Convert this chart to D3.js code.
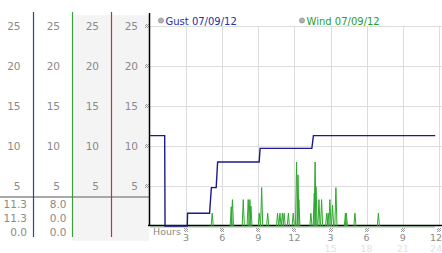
<!DOCTYPE html>
<html>

<head>
    <title>Gust / Wind 07/09/12</title>
    <script src="https://d3js.org/d3.v7.min.js"></script>
</head>

<body style="margin: 0; padding: 0; background: #fff;">
    <div id="container" style="width: 442px; height: 253px;"></div>

    <script>
        // chart values
        var yTicks = [25, 20, 15, 10, 5];
        var hourTicks = [3, 6, 9, 12, 15, 18, 21, 24];
        var hourLabels = ["3", "6", "9", "12", "3", "6", "9", "12"];
        var hourLabels24 = ["", "", "", "", "15", "18", "21", "24"];
        var seriesNames = ["Gust 07/09/12", "Wind 07/09/12"];
        var gustStats = ["11.3", "11.3", "0.0"];
        var windStats = ["8.0", "0.0", "0.0"];

        // gust readings (hours, mph)
        var gustHours = [0, 1.22, 1.25, 3.1, 3.12, 4.95, 5.1, 5.5, 5.62, 9.07, 9.15, 13.45, 13.58, 23.7];
        var gustValues = [11.3, 11.3, 0, 0, 1.6, 1.6, 4.8, 4.8, 8.0, 8.0, 9.7, 9.7, 11.3, 11.3];

        // wind readings that are not zero (hours, mph)
        var windHours = [5.17, 6.75, 6.85, 7.75, 8.16, 8.3, 8.39, 9.08, 9.28, 9.78, 10.6, 10.8, 11.0, 11.15,
            11.5, 11.9, 12.18, 12.3, 12.37, 13.37, 13.65, 13.72, 13.8, 14.04, 14.26, 14.68, 14.81, 14.95,
            15.17, 15.45, 16.24, 16.32, 17.03, 18.98];
        var windValues = [1.6, 2.4, 3.3, 3.3, 3.3, 3.3, 2.5, 1.6, 4.8, 1.6, 1.6, 1.6, 1.6, 1.6,
            1.6, 1.6, 8.0, 6.4, 3.3, 1.6, 4.1, 8.0, 4.9, 3.3, 3.3, 1.6, 1.6, 3.3,
            2.6, 4.8, 1.6, 1.6, 1.6, 1.6];

        var font = "'DejaVu Sans', Verdana, sans-serif";
        var grey = "#8a8a8a";

        var svg = d3.select("#container").append("svg")
            .attr("width", 442)
            .attr("height", 253)
            .style("font-family", font);

        // checker pattern for the little tick marks
        var pat = svg.append("defs").append("pattern")
            .attr("id", "hatch")
            .attr("width", 2).attr("height", 2)
            .attr("patternUnits", "userSpaceOnUse");
        pat.append("rect").attr("width", 1).attr("height", 1).attr("fill", "#9a9a9a");
        pat.append("rect").attr("x", 1).attr("y", 1).attr("width", 1).attr("height", 1).attr("fill", "#9a9a9a");

        var x = d3.scaleLinear().domain([0, 24]).range([150, 438.8]);
        var y = d3.scaleLinear().domain([0, 25]).range([226, 26]);

        // ---- left panel ----
        svg.append("rect")
            .attr("x", 73).attr("y", 15)
            .attr("width", 76).attr("height", 226)
            .attr("fill", "#f4f4f4");

        var colRight = [20.5, 60, 99, 138];
        colRight.forEach(function (cx) {
            svg.selectAll(null)
                .data(yTicks)
                .enter().append("text")
                .attr("x", cx)
                .attr("y", d => y(d) + 4)
                .attr("text-anchor", "end")
                .style("font-size", "10.5px")
                .style("fill", grey)
                .text(d => d);
        });

        // separator between axis labels and the stats rows
        svg.append("rect")
            .attr("x", 0).attr("y", 196)
            .attr("width", 149).attr("height", 2)
            .attr("fill", "#a8a8a8");

        var statY = [204.5, 218.5, 232];
        svg.selectAll(null)
            .data(gustStats)
            .enter().append("text")
            .attr("x", 27)
            .attr("y", (d, i) => statY[i] + 3.5)
            .attr("text-anchor", "end")
            .style("font-size", "10.5px")
            .style("fill", grey)
            .text(d => d);
        svg.selectAll(null)
            .data(windStats)
            .enter().append("text")
            .attr("x", 66.5)
            .attr("y", (d, i) => statY[i] + 3.5)
            .attr("text-anchor", "end")
            .style("font-size", "10.5px")
            .style("fill", grey)
            .text(d => d);

        // coloured column separators
        [[33.5, "#2846a0"], [72.5, "#3a9e3a"], [111.5, "#b03a3a"]].forEach(function (c) {
            svg.append("line")
                .attr("x1", c[0]).attr("x2", c[0])
                .attr("y1", 12).attr("y2", 237)
                .attr("stroke", c[1])
                .attr("stroke-width", 1.2);
        });

        // ---- main chart grid ----
        svg.selectAll(null)
            .data(yTicks)
            .enter().append("line")
            .attr("x1", 150).attr("x2", 442)
            .attr("y1", d => y(d) + 0.5).attr("y2", d => y(d) + 0.5)
            .attr("stroke", "#dcdcdc");

        svg.selectAll(null)
            .data(hourTicks)
            .enter().append("line")
            .attr("x1", d => Math.round(x(d)) + 0.5).attr("x2", d => Math.round(x(d)) + 0.5)
            .attr("y1", y(25)).attr("y2", y(0))
            .attr("stroke", "#dcdcdc");

        // y tick marks
        svg.selectAll(null)
            .data(yTicks)
            .enter().append("rect")
            .attr("x", 145).attr("y", d => Math.round(y(d)) - 2)
            .attr("width", 4).attr("height", 4)
            .attr("fill", "url(#hatch)");

        // x tick marks and labels
        svg.selectAll(null)
            .data(hourTicks)
            .enter().append("rect")
            .attr("x", d => Math.round(x(d)) - 2).attr("y", 228)
            .attr("width", 4).attr("height", 4)
            .attr("fill", "url(#hatch)");

        // last label sits against the right edge
        var lastTick = hourTicks[hourTicks.length - 1];
        svg.selectAll(null)
            .data(hourTicks)
            .enter().append("text")
            .attr("x", d => d === lastTick ? 442 : x(d))
            .attr("y", 240.5)
            .attr("text-anchor", d => d === lastTick ? "end" : "middle")
            .style("font-size", "9.5px")
            .style("fill", grey)
            .text((d, i) => hourLabels[i]);

        svg.selectAll(null)
            .data(hourTicks)
            .enter().append("text")
            .attr("x", d => d === lastTick ? 442 : x(d))
            .attr("y", 251.5)
            .attr("text-anchor", d => d === lastTick ? "end" : "middle")
            .style("font-size", "9.5px")
            .style("fill", "#e2e2e2")
            .text((d, i) => hourLabels24[i]);

        svg.append("text")
            .attr("x", 153)
            .attr("y", 235)
            .style("font-size", "9.5px")
            .style("fill", grey)
            .text("Hours");

        // ---- series ----
        // wind baseline at zero
        svg.append("line")
            .attr("x1", x(0)).attr("x2", x(23.7))
            .attr("y1", y(0) + 1).attr("y2", y(0) + 1)
            .attr("stroke", "#7ed07e")
            .attr("stroke-width", 1.2);

        // axis lines
        svg.append("line")
            .attr("x1", 149.5).attr("x2", 149.5)
            .attr("y1", 13).attr("y2", 226)
            .attr("stroke", "#000")
            .attr("stroke-width", 1.5);
        svg.append("line")
            .attr("x1", 148).attr("x2", 442)
            .attr("y1", 225.5).attr("y2", 225.5)
            .attr("stroke", "#000")
            .attr("stroke-width", 1.3);

        // wind spikes
        var half = 0.09;
        svg.selectAll(null)
            .data(windHours)
            .enter().append("path")
            .attr("d", (d, i) => d3.line()([[x(d - half), y(0)], [x(d), y(windValues[i])], [x(d + half), y(0)]]))
            .attr("fill", "none")
            .attr("stroke", "#2ea82e")
            .attr("stroke-width", 1);

        // gust line
        var gustLine = d3.line()
            .x(d => x(d))
            .y((d, i) => y(gustValues[i]));
        svg.append("path")
            .attr("d", gustLine(gustHours))
            .attr("fill", "none")
            .attr("stroke", "#1a1a8c")
            .attr("stroke-width", 1.4);

        // legend
        var legendX = [161, 302];
        var legendColor = ["#2131a6", "#2a9d2a"];
        seriesNames.forEach(function (name, i) {
            svg.append("circle")
                .attr("cx", legendX[i]).attr("cy", 20.5)
                .attr("r", 2.6)
                .attr("fill", "#b0b0b0")
                .attr("stroke", "#888")
                .attr("stroke-width", 0.6);
            svg.append("text")
                .attr("x", legendX[i] + 4.5)
                .attr("y", 24.5)
                .style("font-size", "10px")
                .style("fill", legendColor[i])
                .text(name);
        });
    </script>
</body>

</html>
